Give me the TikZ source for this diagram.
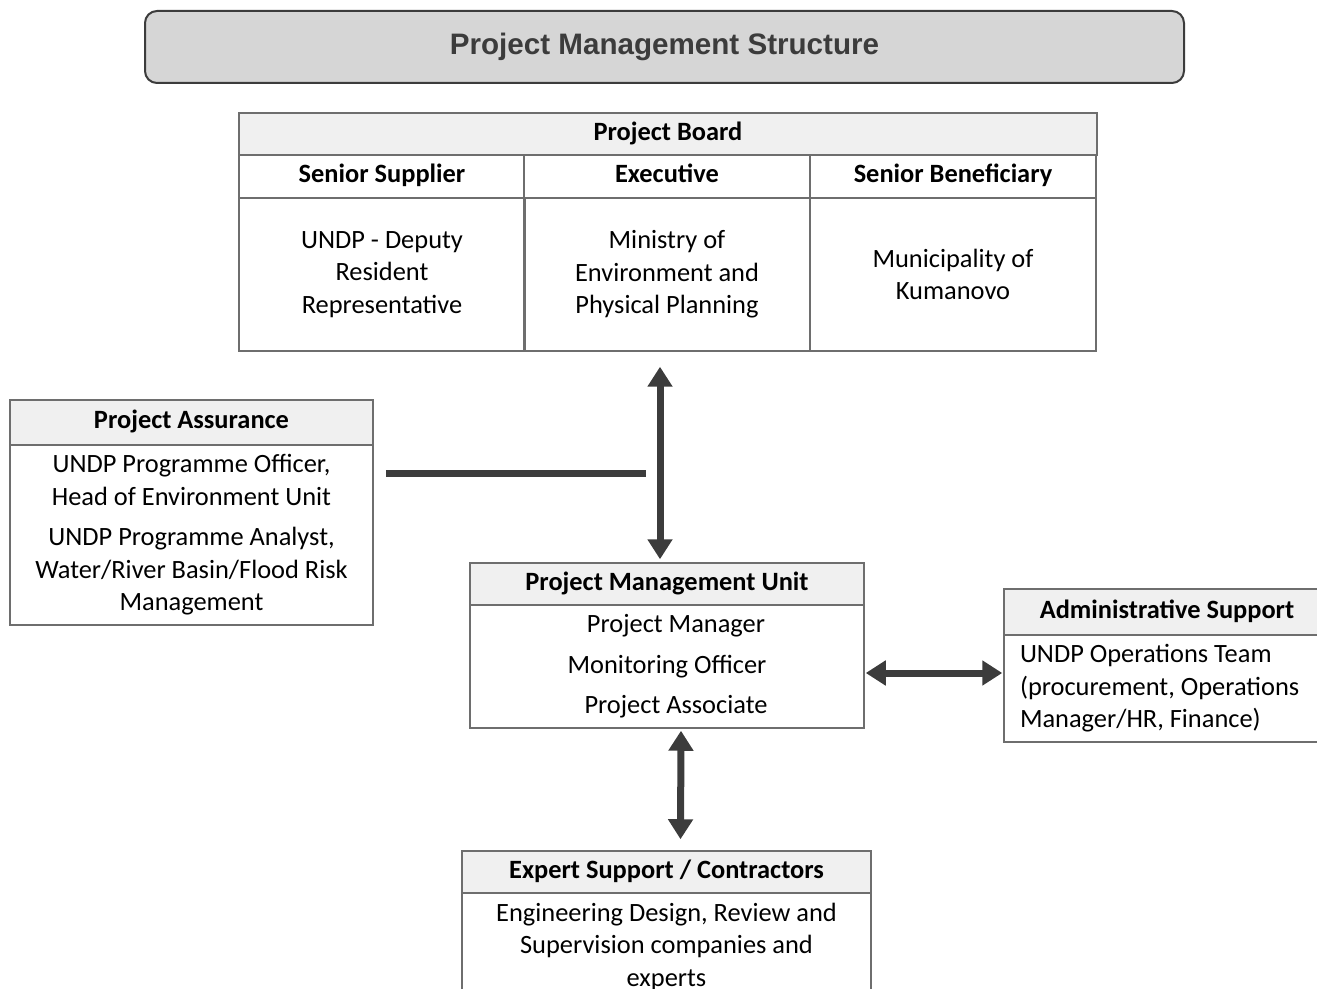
\documentclass[tikz,border=0pt]{standalone}
\usepackage{fontspec}
\setmainfont{Carlito}
\newfontfamily\titlefont{Liberation Sans}
\usetikzlibrary{calc}
\usetikzlibrary{arrows.meta}
\usepackage{xcolor}
\definecolor{linegray}{HTML}{6E6E6E}
\definecolor{hdrgray}{HTML}{F0F0F0}
\definecolor{titlegray}{HTML}{D6D6D6}
\definecolor{arrowgray}{HTML}{3C3C3C}
\newcommand{\bodyfont}{\fontsize{13.2}{16.25}\selectfont}
\tikzset{
  cell/.style={draw=linegray, line width=.75pt, inner sep=0pt, align=center, font=\bodyfont},
  hdr/.style={cell, fill=hdrgray, font=\bodyfont\bfseries, text height=9.5pt, text depth=3pt},
  link/.style={arrowgray, line width=3.5pt},
  dbl/.style={link, {Triangle[width=12pt,length=10pt]}-{Triangle[width=12pt,length=10pt]}}
}

\begin{document}
\begin{tikzpicture}[x=.5pt, y=-.5pt]
\useasboundingbox (0,0) rectangle (1317,989);
\clip (0,0) rectangle (1317,989);
% title
\node[draw=arrowgray, line width=1pt, fill=titlegray, rounded corners=6pt,
  minimum width=519.5pt, minimum height=36pt, text=arrowgray,
  font=\titlefont\fontsize{14.8}{17}\selectfont\bfseries] (title) at (664.5,47) {Project Management Structure};
% project board
\node[hdr, minimum width=429pt, minimum height=21pt] (board) at (668,134) {Project Board};
\foreach \cx/\nm/\hd/\bd in {382/sup/Senior Supplier/{UNDP - Deputy\\Resident\\Representative},
  667/exe/Executive/{Ministry of\\Environment and\\Physical Planning},
  953/ben/Senior Beneficiary/{Municipality of\\Kumanovo}} {
 \node[hdr, fill=white, minimum width=143pt, minimum height=21.5pt] (\nm-h) at (\cx,176.5) {\hd};
 \node[cell, minimum width=143pt, minimum height=76.5pt] (\nm) at (\cx,274.5) {\bd};
}
% project assurance
\node[hdr, minimum width=181.5pt, minimum height=22.5pt] (pa-h) at (191.5,422.5) {Project Assurance};
\node[cell, minimum width=181.5pt, minimum height=90pt] (pa) at (191.5,535)
  {UNDP Programme Officer,\\Head of Environment Unit\\[4pt]UNDP Programme Analyst,\\Water/River Basin/Flood Risk\\Management};
% project management unit
\node[hdr, minimum width=197pt, minimum height=21pt] (pmu-h) at (667,584) {Project Management Unit};
\node[cell, minimum width=197pt, minimum height=61.5pt] (pmu) at (667,666.5)
  {\hspace*{9pt}Project Manager\\[4pt]Monitoring Officer\\[4pt]\hspace*{9pt}Project Associate};
% administrative support
\node[hdr, minimum width=163pt, minimum height=23pt] (adm-h) at (1167,612) {Administrative Support};
\node[cell, align=flush left, text width=147pt, inner xsep=8pt, minimum height=53.5pt] (adm) at (1167,688.5)
  {UNDP Operations Team\\(procurement, Operations\\Manager/HR, Finance)};
% expert support
\node[hdr, minimum width=204.5pt, minimum height=21pt] (exp-h) at (666.5,872) {Expert Support / Contractors};
\node[cell, minimum width=204.5pt, minimum height=53.5pt] (exp) at (666.5,946.5)
  {Engineering Design, Review and\\Supervision companies and\\experts};
% connectors
\draw[dbl] ($(exe.south)+(-7,15)$) -- ($(pmu-h.north)+(-7,-3)$);
\draw[link] ($(pa-h.south east)+(12,28)$) -- ++(260,0);
\draw[dbl] ($(pmu.east)+(1,6.5)$) -- ($(adm.west|-pmu.east)+(-1,6.5)$);
\draw[dbl] ($(pmu.south)+(14,2)$) -- ($(exp-h.north)+(14,-11)$);
\end{tikzpicture}
\end{document}
